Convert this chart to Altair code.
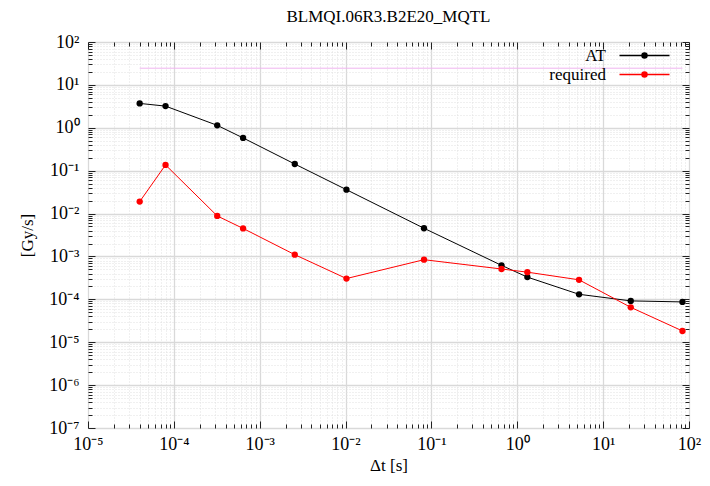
import altair as alt
import pandas as pd

# ---- data ----
dt = [4.0e-5, 8.0e-5, 3.2e-4, 6.4e-4, 2.56e-3, 1.024e-2, 8.19e-2, 0.655, 1.31, 5.24, 20.97, 83.9]
at_vals = [3.7, 3.2, 1.14, 0.58, 0.143, 0.036, 0.00454, 6.2e-4, 3.3e-4, 1.31e-4, 9.2e-5, 8.7e-5]
req_vals = [0.019, 0.136, 0.0088, 0.0045, 1.1e-3, 3.05e-4, 8.4e-4, 5.1e-4, 4.3e-4, 2.85e-4, 6.5e-5, 1.83e-5]
series_names = ["AT", "required"]
series_colors = ["#000000", "#ff0000"]
limit_x = [4.0e-5, 83.9]
limit_y = [24.5, 24.5]

x_exps = [-5, -4, -3, -2, -1, 0, 1, 2]
y_exps = [-7, -6, -5, -4, -3, -2, -1, 0, 1, 2]

title_text = "BLMQI.06R3.B2E20_MQTL"
x_title = "Δt [s]"
y_title = "[Gy/s]"

W, H = 601, 386
FONT = "Liberation Serif"

df = pd.DataFrame({
    "dt": dt * 2,
    "val": at_vals + req_vals,
    "series": [series_names[0]] * len(dt) + [series_names[1]] * len(dt),
})
df_lim = pd.DataFrame({"dt": limit_x, "val": limit_y})

SUP = str.maketrans("-0123456789", "⁻⁰¹²³⁴⁵⁶⁷⁸⁹")


def ticks(exps):
    vals = []
    for e in exps[:-1]:
        for k in range(1, 10):
            vals.append(k * 10.0 ** e)
    vals.append(10.0 ** exps[-1])
    return vals


def label_expr(exps):
    expr = "''"
    for e in reversed(exps):
        expr = f"abs(log(datum.value)/LN10 - ({e})) < 0.001 ? '10{str(e).translate(SUP)}' : " + expr
    return expr


MAJOR = "abs(log(datum.value)/LN10 - round(log(datum.value)/LN10)) < 0.001"

x_ticks = ticks(x_exps)
y_ticks = ticks(y_exps)

grid_common = dict(
    grid=True,
    gridColor={"condition": {"test": MAJOR, "value": "#d9d9d9"}, "value": "#e0e0e0"},
    gridDash={"condition": {"test": MAJOR, "value": [1, 0]}, "value": [1, 2]},
    gridWidth={"condition": {"test": MAJOR, "value": 1.3}, "value": 1},
    tickSize=0,
    domain=False,
    labelFont=FONT,
    labelFontSize=18,
    labelColor="black",
    labelOverlap=False,
    labelFlush=False,
    titleFont=FONT,
    titleFontSize=17,
    titleFontWeight="normal",
    titleColor="black",
)

tick_common = dict(
    grid=False,
    labels=False,
    domain=False,
    title="",
    tickColor="#222222",
    tickWidth=1,
    tickSize={"condition": {"test": MAJOR, "value": 7}, "value": 4},
)

x_scale = alt.Scale(type="log", domain=[1e-5, 1e2], nice=False)
y_scale = alt.Scale(type="log", domain=[1e-7, 1e2], nice=False)

x_main = alt.Axis(values=x_ticks, labelExpr=label_expr(x_exps), labelPadding=7,
                  title=x_title, titlePadding=4, orient="bottom", **grid_common)
y_main = alt.Axis(values=y_ticks, labelExpr=label_expr(y_exps), labelPadding=9,
                  title=y_title, titlePadding=12, orient="left", **grid_common)

# pink limit line (hosts main axes with labels and grid)
limit = alt.Chart(df_lim).mark_line(color="#f0b4f0", strokeWidth=1).encode(
    x=alt.X("dt:Q", scale=x_scale, axis=x_main),
    y=alt.Y("val:Q", scale=y_scale, axis=y_main),
)

color = alt.Color(
    "series:N",
    scale=alt.Scale(domain=series_names, range=series_colors),
    legend=alt.Legend(
        title=None,
        orient="none",
        legendX=548,
        legendY=5,
        symbolType="M-5,0H5M0.5,0A0.5,0.5,0,1,1,-0.5,0A0.5,0.5,0,1,1,0.5,0Z",
        symbolSize=100,
        symbolStrokeWidth=1.5,
        labelAlign="right",
        labelOffset={"expr": "-47"},
        labelFont=FONT,
        labelFontSize=17,
        labelColor="black",
        rowPadding=1,
    ),
)

lines = alt.Chart(df).mark_line(strokeWidth=1).encode(
    x=alt.X("dt:Q", scale=x_scale, axis=alt.Axis(orient="top", offset=-H, values=x_ticks, **tick_common)),
    y=alt.Y("val:Q", scale=y_scale, axis=alt.Axis(orient="right", offset=-W, values=y_ticks, **tick_common)),
    color=color,
)

points = alt.Chart(df).mark_point(filled=True, size=40, opacity=1).encode(
    x=alt.X("dt:Q", scale=x_scale, axis=alt.Axis(orient="bottom", offset=-H, values=x_ticks, **tick_common)),
    y=alt.Y("val:Q", scale=y_scale, axis=alt.Axis(orient="left", offset=-W, values=y_ticks, **tick_common)),
    color=color,
)

chart = alt.layer(limit, lines, points).resolve_axis(
    x="independent", y="independent"
).properties(
    width=W,
    height=H,
    autosize=alt.AutoSizeParams(type="none"),
    padding={"left": 88, "top": 42, "right": 21, "bottom": 58},
    title=alt.TitleParams(title_text, font=FONT, fontSize=17, fontWeight="normal",
                          color="black", anchor="middle", offset=7),
).configure_view(
    stroke="#222222", strokeWidth=1.5
).configure(
    background="white"
)

chart.save("out.html", embed_options={"renderer": "svg", "actions": False})
